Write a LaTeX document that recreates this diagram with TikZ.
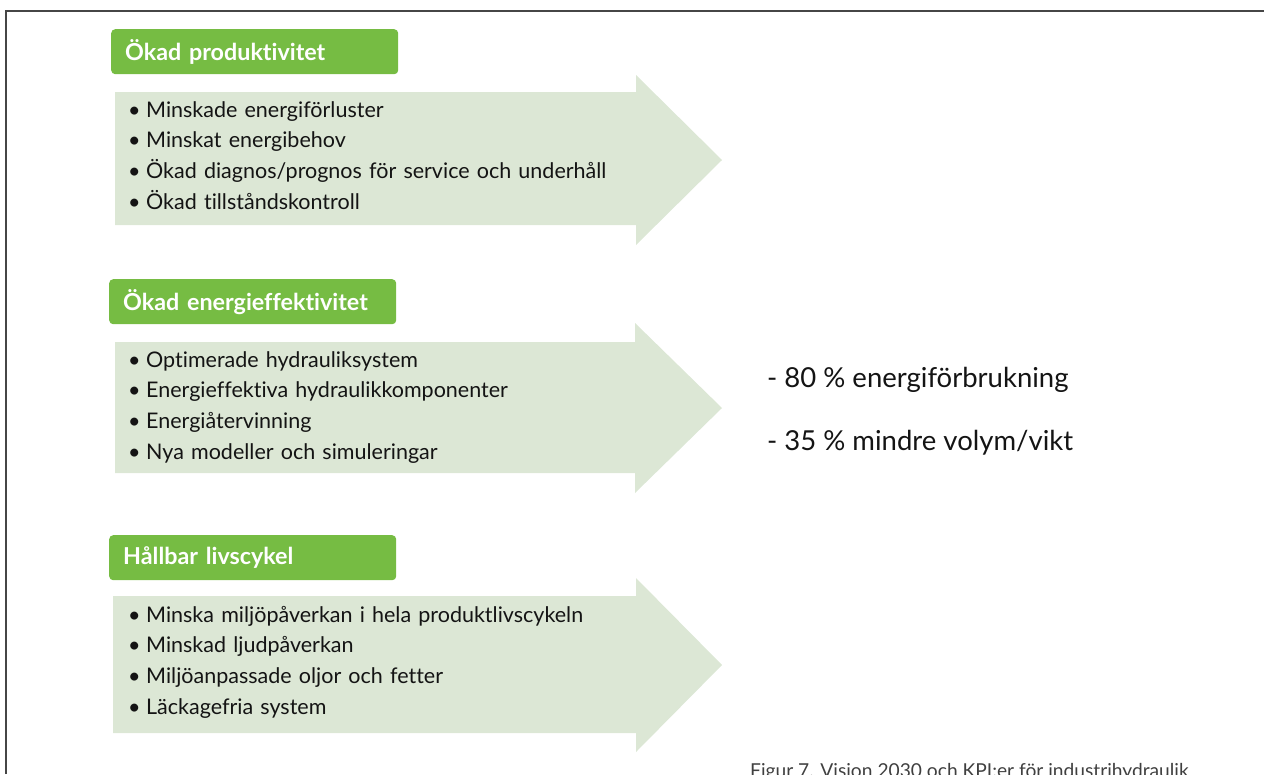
\documentclass[tikz,border=0pt]{standalone}
\usepackage{fontspec}
\setmainfont{Lato}[Ligatures=NoCommon]
\usepackage{tikz}
\usetikzlibrary{positioning}
\definecolor{headgreen}{RGB}{118, 188, 67}
\definecolor{arrowgreen}{RGB}{220, 231, 213}
\definecolor{framegray}{RGB}{70, 70, 70}
\newcommand{\blt}{\makebox[18pt][l]{•}}

\begin{document}
\begin{tikzpicture}[x=1pt, y=-1pt,
    headbox/.style={rectangle, rounded corners=4pt, anchor=north west,
        minimum width=287pt, minimum height=45pt, text width=259pt,
        inner xsep=14pt, inner ysep=0pt, align=left,
        font=\fontsize{23.3}{26}\selectfont\bfseries, text=white, fill=headgreen},
    listbox/.style={anchor=base west, inner sep=0pt, text width=580pt,
        align=left, font=\fontsize{21.5}{30.7}\selectfont, text=black!92},
    kpitext/.style={anchor=base west, inner sep=0pt,
        font=\fontsize{27.5}{30}\selectfont, text=black!92},
    capnote/.style={anchor=base west, inner sep=0pt,
        font=\fontsize{19.2}{22}\selectfont, text=black!75},
    arrowfill/.style={fill=arrowgreen, draw=none},
    pageframe/.style={draw=framegray, line width=2pt},
]
\useasboundingbox (0,0) rectangle (1264,774);

% ── FRAME ───────────────────────────────────────────────────────────────────
\draw[pageframe] (6,774) -- (6,10.5) -- (1264,10.5);

% ── ARROWS ──────────────────────────────────────────────────────────────────
\fill[arrowfill] (115,92) -- (636,92) -- (636,75) -- (722,160)
    -- (636,245) -- (636,225) -- (115,225) -- cycle;
\fill[arrowfill] (115,342) -- (635,342) -- (635,323) -- (722,408)
    -- (635,493) -- (635,473) -- (115,473) -- cycle;
\fill[arrowfill] (113,596) -- (636,596) -- (636,578) -- (722,665)
    -- (636,752) -- (636,733) -- (113,733) -- cycle;

% ── HEADERS ─────────────────────────────────────────────────────────────────
\node[headbox] at (111, 29)  (h1) {Ökad produktivitet};
\node[headbox] at (109, 279) (h2) {Ökad energieffektivitet};
\node[headbox] at (109, 535) (h3) {Hållbar livscykel};

% ── LISTS ───────────────────────────────────────────────────────────────────
\node[listbox] at (128, 117) (l1) {\blt Minskade energiförluster\\
    \blt Minskat energibehov\\
    \blt Ökad diagnos/prognos för service och underhåll\\
    \blt Ökad tillståndskontroll};
\node[listbox] at (128, 367) (l2) {\blt Optimerade hydrauliksystem\\
    \blt Energieffektiva hydraulikkomponenter\\
    \blt Energiåtervinning\\
    \blt Nya modeller och simuleringar};
\node[listbox] at (128, 622) (l3) {\blt Minska miljöpåverkan i hela produktlivscykeln\\
    \blt Minskad ljudpåverkan\\
    \blt Miljöanpassade oljor och fetter\\
    \blt Läckagefria system};

% ── KPI ─────────────────────────────────────────────────────────────────────
\node[kpitext] at (767, 387) (k1) {- 80 \% energiförbrukning};
\node[kpitext] at (767, 450) (k2) {- 35 \% mindre volym/vikt};

% ── CAPTION ─────────────────────────────────────────────────────────────────
\node[capnote] at (750, 777) (cap) {Figur 7. Vision 2030 och KPI:er för industrihydraulik};

\end{tikzpicture}
\end{document}
